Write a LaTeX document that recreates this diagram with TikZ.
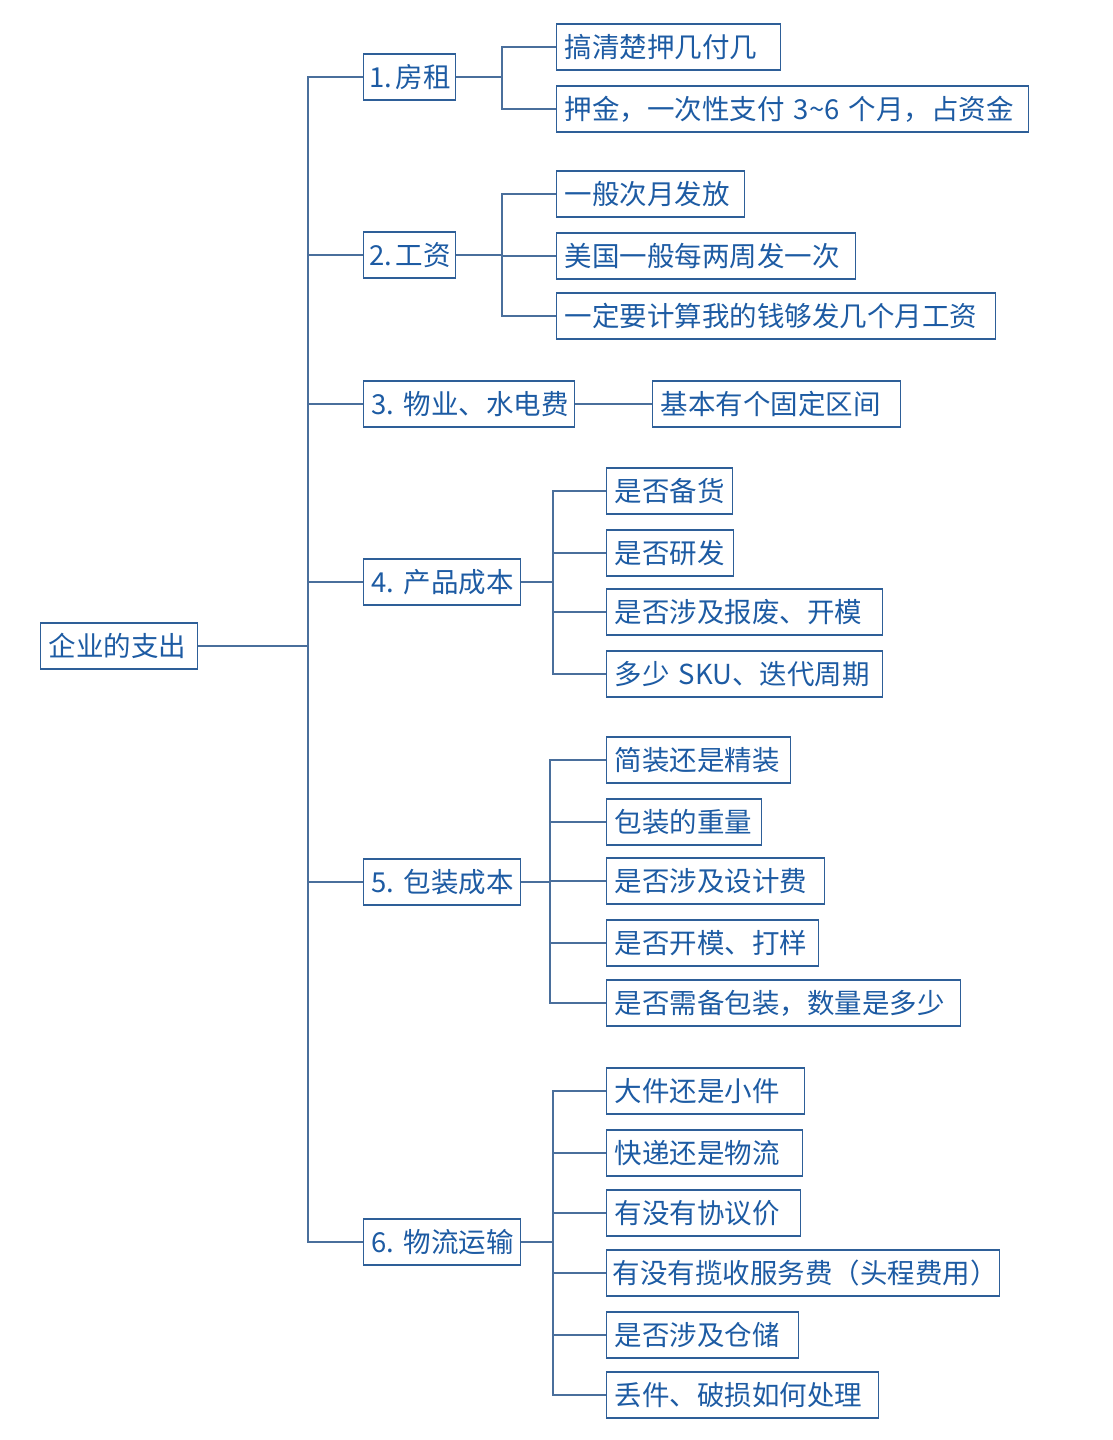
\documentclass[tikz,border=0pt]{standalone}
\usepackage{fontspec}
\setmainfont{Noto Sans CJK SC}
\definecolor{txtc}{HTML}{1D5BA3}
\definecolor{boxc}{HTML}{2E5F98}
\definecolor{linec}{HTML}{4A6F9C}
\begin{document}
\begin{tikzpicture}[x=1pt,y=-1pt,
  bx/.style={draw=boxc,line width=1.2pt,text=txtc,anchor=west,minimum height=46pt,text width=#1,align=left,inner xsep=8pt,inner ysep=0pt,font=\fontsize{27.5}{32}\selectfont},
  cn/.style={draw=linec,line width=1.1pt}]
\useasboundingbox (0,0) rectangle (1113,1440);
\node[bx=141pt] (root) at (40,646) {企业的支出};
\node[bx=80pt,inner xsep=6pt] (b1) at (363,77) {\mbox{1.\hspace{3pt}房租}};
\node[bx=80pt,inner xsep=6pt] (b2) at (363,255) {\mbox{2.\hspace{3pt}工资}};
\node[bx=195pt] (b3) at (363,404) {\mbox{3.~物业、水电费}};
\node[bx=141pt] (b4) at (363,582) {\mbox{4.~产品成本}};
\node[bx=141pt] (b5) at (363,882) {\mbox{5.~包装成本}};
\node[bx=141pt] (b6) at (363,1242) {\mbox{6.~物流运输}};
% 1
\node[bx=208pt] (c11) at (556,47) {搞清楚押几付几};
\node[bx=456pt] (c12) at (556,109) {\mbox{押金，一次性支付~3\textasciitilde 6~个月，占资金}};
% 2
\node[bx=172pt] (c21) at (556,194) {一般次月发放};
\node[bx=283pt] (c22) at (556,256) {美国一般每两周发一次};
\node[bx=423pt] (c23) at (556,316) {一定要计算我的钱够发几个月工资};
% 3
\node[bx=232pt] (c31) at (652,404) {基本有个固定区间};
% 4
\node[bx=110pt] (c41) at (606,491) {是否备货};
\node[bx=111pt] (c42) at (606,553) {是否研发};
\node[bx=260pt] (c43) at (606,612) {是否涉及报废、开模};
\node[bx=260pt] (c44) at (606,674) {\mbox{多少~SKU、迭代周期}};
% 5
\node[bx=168pt] (c51) at (606,760) {简装还是精装};
\node[bx=139pt] (c52) at (606,822) {包装的重量};
\node[bx=202pt] (c53) at (606,881) {是否涉及设计费};
\node[bx=196pt] (c54) at (606,943) {是否开模、打样};
\node[bx=338pt] (c55) at (606,1003) {是否需备包装，数量是多少};
% 6
\node[bx=182pt] (c61) at (606,1091) {大件还是小件};
\node[bx=180pt] (c62) at (606,1153) {快递还是物流};
\node[bx=178pt] (c63) at (606,1213) {有没有协议价};
\node[bx=381pt,inner xsep=6pt] (c64) at (606,1273) {\mbox{有没有揽收服务费（头程费用）}};
\node[bx=176pt] (c65) at (606,1335) {是否涉及仓储};
\node[bx=256pt] (c66) at (606,1395) {丢件、破损如何处理};
% junction coordinates
\coordinate (t0) at (308,646);
\coordinate (t1) at (502,77);
\coordinate (t2) at (502,255);
\coordinate (t4) at (553,582);
\coordinate (t5) at (550,882);
\coordinate (t6) at (553,1242);
% connectors
\foreach \b in {b1,b2,b3,b4,b5,b6}
  \draw[cn] (root.east) -- (t0) |- (\b.west);
\foreach \c in {c11,c12} \draw[cn] (b1.east) -- (t1) |- (\c.west);
\foreach \c in {c21,c22,c23} \draw[cn] (b2.east) -- (t2) |- (\c.west);
\draw[cn] (b3.east) -- (c31.west);
\foreach \c in {c41,c42,c43,c44} \draw[cn] (b4.east) -- (t4) |- (\c.west);
\foreach \c in {c51,c52,c53,c54,c55} \draw[cn] (b5.east) -- (t5) |- (\c.west);
\foreach \c in {c61,c62,c63,c64,c65,c66} \draw[cn] (b6.east) -- (t6) |- (\c.west);
\end{tikzpicture}
\end{document}
